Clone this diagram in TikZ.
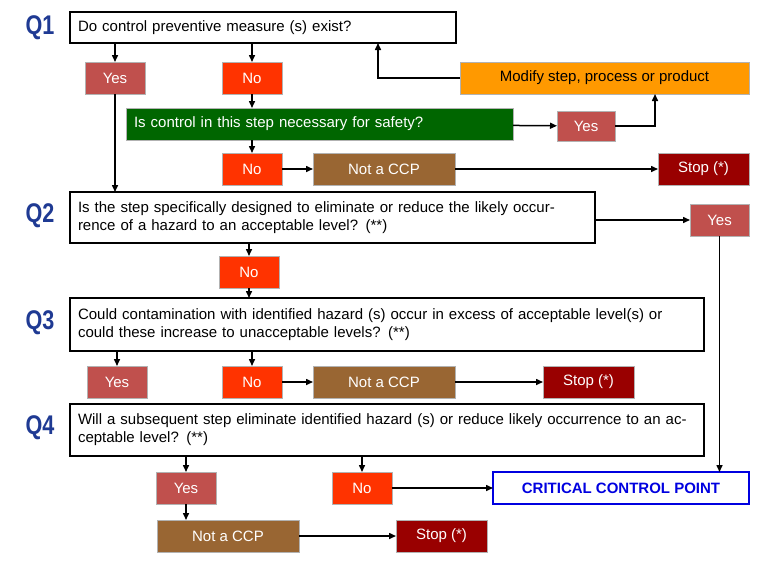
\documentclass[tikz,border=0pt]{standalone}
\usepackage{fontspec}
\setmainfont{Liberation Sans}
\usetikzlibrary{arrows.meta}
\definecolor{yesc}{HTML}{C0504D}
\definecolor{noc}{HTML}{FF3300}
\definecolor{modc}{HTML}{FF9900}
\definecolor{grc}{HTML}{006600}
\definecolor{brc}{HTML}{996633}
\definecolor{stc}{HTML}{990000}
\definecolor{qc}{HTML}{1F3A93}
\definecolor{ccpc}{HTML}{0000E0}
\begin{document}
\begin{tikzpicture}[x=1pt,y=-1pt,
  every node/.style={inner sep=0pt,outer sep=0pt,font=\fontsize{15}{18}\selectfont},
  fill box/.style={draw=gray!60,line width=0.5pt,text=white},
  qbox/.style={draw=black,line width=1.5pt,fill=white,align=left,text width=#1,inner xsep=8pt},
  qlab/.style={text=qc,font=\fontsize{27}{30}\selectfont\bfseries,xscale=0.8},
  arr/.style={-{Triangle[length=7pt,width=6pt]},line width=1.5pt}]
\useasboundingbox (0,0) rectangle (768,576);
\newcommand{\bx}[6]{\node[#1,minimum width={#4-#2},minimum height={#5-#3}] (#6) at ({(#2+#4)/2},{(#3+#5)/2}) {\strut};}
% Q labels
\node[qlab] (q1) at (40,28) {Q1};
\node[qlab] (q2) at (40,216) {Q2};
\node[qlab] (q3) at (40,323) {Q3};
\node[qlab] (q4) at (40,428) {Q4};
% question boxes
\node[qbox=370pt,minimum height=31pt,anchor=west] (b1) at (70,27.5) {Do control preventive measure (s) exist?};
\node[qbox=509pt,minimum height=51pt,anchor=west] (b2) at (70,217.5) {Is the step specifically designed to eliminate or reduce the likely occurrence of a hazard to an acceptable level? (**)};
\node[qbox=618pt,minimum height=53pt,anchor=west] (b3) at (70,324.5) {Could contamination with identified hazard (s) occur in excess of acceptable level(s) or could these increase to unacceptable levels? (**)};
\node[qbox=618pt,minimum height=52pt,anchor=west] (b4) at (70,430) {Will a subsequent step eliminate identified hazard (s) or reduce likely occurrence to an acceptable level? (**)};
% coloured boxes
\node[fill box,fill=yesc,minimum width=60pt,minimum height=32pt] (y1) at (115,78) {Yes};
\node[fill box,fill=noc,minimum width=60pt,minimum height=32pt] (n1) at (252,78) {No};
\node[fill box,fill=modc,text=black,minimum width=289pt,minimum height=32pt] (mod) at (604.5,78) {Modify step, process or product};
\node[fill box,fill=grc,minimum width=387pt,minimum height=32pt,text width=371pt,align=left] (gr) at (319.5,124) {Is control in this step necessary for safety?};
\node[fill box,fill=yesc,minimum width=58pt,minimum height=30pt] (y2) at (586,126) {Yes};
\node[fill box,fill=noc,minimum width=60pt,minimum height=32pt] (n2) at (252,169) {No};
\node[fill box,fill=brc,minimum width=142pt,minimum height=32pt] (c1) at (384,169) {Not a CCP};
\node[fill box,fill=stc,minimum width=91pt,minimum height=32pt] (s1) at (703.5,169) {Stop (*)};
\node[fill box,fill=yesc,minimum width=59pt,minimum height=32pt] (yq2) at (719.5,220) {Yes};
\node[fill box,fill=noc,minimum width=60pt,minimum height=32pt] (nq2) at (249,272) {No};
\node[fill box,fill=yesc,minimum width=60pt,minimum height=32pt] (yq3) at (117,382) {Yes};
\node[fill box,fill=noc,minimum width=60pt,minimum height=32pt] (nq3) at (252,382) {No};
\node[fill box,fill=brc,minimum width=142pt,minimum height=32pt] (c2) at (384,382) {Not a CCP};
\node[fill box,fill=stc,minimum width=91pt,minimum height=32pt] (s2) at (588.5,382) {Stop (*)};
\node[fill box,fill=yesc,minimum width=60pt,minimum height=32pt] (yq4) at (186,488) {Yes};
\node[fill box,fill=noc,minimum width=60pt,minimum height=32pt] (nq4) at (362,488) {No};
\node[draw=ccpc,line width=1.5pt,fill=white,text=ccpc,font=\fontsize{15}{18}\selectfont\bfseries,minimum width=256pt,minimum height=32pt] (ccp) at (621,488) {CRITICAL CONTROL POINT};
\node[fill box,fill=brc,minimum width=142pt,minimum height=32pt] (c3) at (228,536) {Not a CCP};
\node[fill box,fill=stc,minimum width=91pt,minimum height=32pt] (s3) at (441.5,536) {Stop (*)};
% connectors
\draw[arr] (b1.south -| y1) -- (y1);
\draw[arr] (b1.south -| n1) -- (n1);
\draw[arr] (mod.west) -- (378,78) -- (b1.south -| 378,0);
\draw[arr] (n1) -- (gr.north -| n1);
\draw[arr] (gr) -- (y2);
\draw[arr] (y2.east) -- (655,126) -- (mod.south -| 655,0);
\draw[arr] (gr.south -| n2) -- (n2);
\draw[arr] (n2) -- (c1);
\draw[arr] (c1) -- (s1);
\draw[arr] (y1) -- (b2.north -| y1);
\draw[arr] (b2.east |- yq2) -- (yq2);
\draw[arr] (yq2) -- (ccp.north -| yq2);
\draw[arr] (b2.south -| nq2) -- (nq2);
\draw[arr] (nq2) -- (b3.north -| nq2);
\draw[arr] (b3.south -| yq3) -- (yq3);
\draw[arr] (b3.south -| nq3) -- (nq3);
\draw[arr] (nq3) -- (c2);
\draw[arr] (c2) -- (s2);
\draw[arr] (b4.south -| yq4) -- (yq4);
\draw[arr] (b4.south -| nq4) -- (nq4);
\draw[arr] (nq4) -- (ccp);
\draw[arr] (yq4) -- (c3.north -| yq4);
\draw[arr] (c3) -- (s3);
\end{tikzpicture}
\end{document}
